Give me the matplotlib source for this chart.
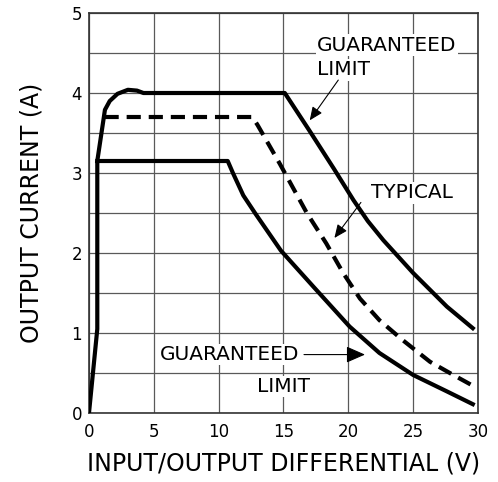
import matplotlib.pyplot as plt

# curve data (volts, amps)
rise_x = [0.0, 0.64, 0.64]
rise_y = [0.0, 1.05, 3.15]

upper_x = [0.64, 1.23, 1.6, 2.2, 3.0, 3.7, 4.2, 15.1, 17.0, 18.9, 20.4, 21.5,
           22.7, 25.0, 27.6, 29.6]
upper_y = [3.15, 3.79, 3.90, 3.99, 4.04, 4.03, 4.0, 4.0, 3.53, 3.05, 2.66, 2.40,
           2.16, 1.75, 1.33, 1.06]

typical_x = [1.2, 12.6, 13.0, 14.7, 16.8, 18.3, 19.6, 20.9, 22.4, 24.2, 26.3,
             28.1, 29.5]
typical_y = [3.7, 3.7, 3.6, 3.12, 2.5, 2.12, 1.75, 1.43, 1.16, 0.91, 0.64,
             0.475, 0.35]

lower_x = [0.64, 10.7, 11.1, 11.9, 12.8, 14.8, 17.3, 20.1, 22.4, 25.0, 27.6, 29.6]
lower_y = [3.15, 3.15, 3.0, 2.72, 2.5, 2.03, 1.58, 1.08, 0.75, 0.475, 0.27, 0.11]

x_ticks = [0, 5, 10, 15, 20, 25, 30]
y_ticks = [0, 1, 2, 3, 4, 5]

plt.rcParams['font.family'] = 'DejaVu Sans'

fig = plt.figure(figsize=(4.98, 4.82), dpi=100)
ax = fig.add_axes([0.1787, 0.1432, 0.7811, 0.8298])

# grid: verticals every 5 V, horizontals every 0.5 A
for gx in x_ticks:
    ax.axvline(gx, color='0.35', lw=0.9, zorder=1)
for i in range(11):
    ax.axhline(i * 0.5, color='0.35', lw=0.9, zorder=1)

ax.plot(rise_x, rise_y, color='black', lw=3, solid_capstyle='butt', zorder=4)
ax.plot(upper_x, upper_y, color='black', lw=3, solid_joinstyle='round', zorder=4)
ax.plot(lower_x, lower_y, color='black', lw=3, solid_joinstyle='round', zorder=4)
ax.plot(typical_x, typical_y, color='black', lw=3, linestyle=(0, (3.4, 1.9)),
        dash_capstyle='butt', zorder=4)

ax.set_xlim(0, 30)
ax.set_ylim(0, 5)
ax.set_xticks(x_ticks)
ax.set_yticks(y_ticks)
ax.tick_params(length=0, labelsize=12)
ax.tick_params(axis='x', pad=7)
ax.tick_params(axis='y', pad=5)
for s in ax.spines.values():
    s.set_color('0.2')
    s.set_linewidth(1.2)

ax.set_xlabel('INPUT/OUTPUT DIFFERENTIAL (V)', fontsize=17, labelpad=8)
ax.set_ylabel('OUTPUT CURRENT (A)', fontsize=17, labelpad=20)

box = dict(fc='white', ec='none', pad=1)
arrow = dict(arrowstyle='-|>,head_length=0.8,head_width=0.35', color='black', lw=0.8)
fs = 14.5

ax.text(17.6, 4.6, 'GUARANTEED', fontsize=fs, ha='left', va='center', bbox=box, zorder=3)
ax.text(17.6, 4.29, 'LIMIT', fontsize=fs, ha='left', va='center', bbox=box, zorder=3)
ax.annotate('', xy=(16.9, 3.63), xytext=(19.35, 4.19), arrowprops=arrow, zorder=5)

ax.text(24.9, 2.75, 'TYPICAL', fontsize=fs, ha='center', va='center', bbox=box, zorder=3)
ax.annotate('', xy=(18.8, 2.16), xytext=(21.1, 2.66), arrowprops=arrow, zorder=5)

ax.annotate('GUARANTEED', xy=(21.5, 0.73), xytext=(5.5, 0.73), fontsize=fs,
            ha='left', va='center', bbox=box, arrowprops=arrow, zorder=3)
ax.text(15.0, 0.33, 'LIMIT', fontsize=fs, ha='center', va='center', bbox=box, zorder=3)

plt.savefig('out.png', dpi=100)
